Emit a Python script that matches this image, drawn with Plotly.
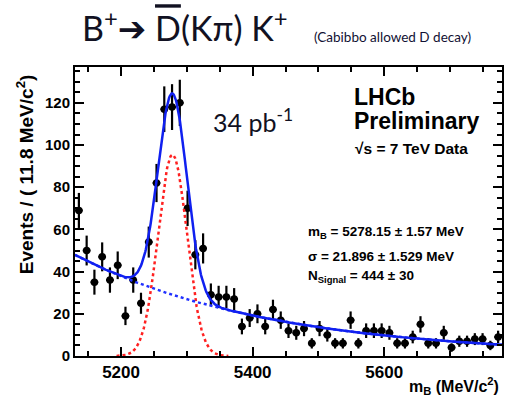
import numpy as np
import plotly.graph_objects as go

# Binning of the B candidate mass spectrum (MeV/c^2)
M_LO = 5130.0
BIN_W = 11.8
counts = [69, 50, 35, 47, 36, 43, 19, 36, 25, 54,
          82, 117, 118, 120, 70, 48, 51, 29, 28, 28,
          27, 14, 18, 20, 14, 22, 17, 12, 11, 13,
          6, 13, 10, 6, 6, 17, 6, 12, 12, 12,
          11, 6, 6, 9, 15, 6, 6, 11, 4, 7,
          7, 8, 8, 5, 9]

# Fit results
SIG_MEAN = 5278.15
SIG_WIDTH = 21.896
N_SIGNAL = 444
BKG_NORM = 47.9        # events per bin at the low edge
BKG_SLOPE = -0.00339   # per MeV/c^2

x_ticks = [5200, 5400, 5600]
y_ticks = [0, 20, 40, 60, 80, 100, 120]

n_bins = len(counts)
M_HI = M_LO + n_bins * BIN_W
centers = M_LO + BIN_W * (np.arange(n_bins) + 0.5)
errors = np.sqrt(np.array(counts, dtype=float))

m = np.linspace(M_LO, M_HI, 700)
signal = N_SIGNAL * BIN_W / (np.sqrt(2 * np.pi) * SIG_WIDTH) * np.exp(-0.5 * ((m - SIG_MEAN) / SIG_WIDTH) ** 2)
background = BKG_NORM * np.exp(BKG_SLOPE * (m - M_LO))
total = signal + background

W, H = 510, 401
ML, MR, MT, MB = 75, 6, 67, 45
PW, PH = W - ML - MR, H - MT - MB


def paper(px, py):
    """Convert window pixel position to paper coordinates."""
    return (px - ML) / PW, (H - MB - py) / PH


fig = go.Figure()

fig.add_trace(go.Scatter(
    x=centers, y=counts, mode="markers",
    marker=dict(color="black", size=7.5),
    error_y=dict(type="data", array=errors, color="black", thickness=2.2, width=0),
    error_x=dict(type="constant", value=BIN_W / 2, color="black", thickness=2, width=0),
    showlegend=False, hoverinfo="skip",
))
fig.add_trace(go.Scatter(
    x=m, y=np.where(signal > 0.05, signal, np.nan), mode="lines",
    line=dict(color="#ff2020", width=2.5, dash="dot"),
    showlegend=False, hoverinfo="skip",
))
fig.add_trace(go.Scatter(
    x=m, y=background, mode="lines",
    line=dict(color="#2030ff", width=2.5, dash="dot"),
    showlegend=False, hoverinfo="skip",
))
fig.add_trace(go.Scatter(
    x=m, y=total, mode="lines",
    line=dict(color="#1020f0", width=2.5),
    showlegend=False, hoverinfo="skip",
))

axis_font = dict(family="Liberation Sans, Arial", color="black", weight="bold")

fig.update_layout(
    width=W, height=H,
    margin=dict(l=ML, r=MR, t=MT, b=MB),
    paper_bgcolor="white", plot_bgcolor="white",
    xaxis=dict(
        range=[M_LO, M_HI], tickvals=x_ticks, ticktext=[str(v) for v in x_ticks],
        ticks="inside", ticklen=9, tickwidth=1.5, tickcolor="black",
        minor=dict(dtick=50, tick0=5200, ticks="inside", ticklen=5, tickwidth=1.5, tickcolor="black"),
        showline=True, linecolor="black", linewidth=2, mirror="allticks",
        showgrid=False, zeroline=False,
        tickfont=dict(size=17, **axis_font),
    ),
    yaxis=dict(
        range=[0, 137], tickvals=y_ticks, ticktext=[str(v) for v in y_ticks],
        ticks="inside", ticklen=9, tickwidth=1.5, tickcolor="black",
        minor=dict(dtick=5, ticks="inside", ticklen=5, tickwidth=1.5, tickcolor="black"),
        showline=True, linecolor="black", linewidth=2, mirror="allticks",
        showgrid=False, zeroline=False,
        tickfont=dict(size=15, **axis_font),
    ),
)

annotations = []


def label(text, px, py, size, family="Liberation Sans, Arial", bold=True,
          xanchor="left", yanchor="middle", angle=0, color="black"):
    ax, ay = paper(px, py)
    annotations.append(dict(
        text=text, x=ax, y=ay, xref="paper", yref="paper",
        xanchor=xanchor, yanchor=yanchor, showarrow=False, textangle=angle,
        font=dict(family=family, size=size, color=color, weight="bold" if bold else "normal"),
    ))


# Header
label('B<sup>+</sup><span style="font-family:DejaVu Sans">\u2794</span> '
      '<span style="text-decoration:overline">D</span>(K\u03c0) K<sup>+</sup>',
      80, 26, 34, family="Lato", bold=False, color="#111122")
label("(Cabibbo allowed D decay)", 313, 37, 13.5, family="Lato", bold=False, color="#111133")

# Luminosity
label("34 pb<sup>-1</sup>", 212, 120, 25, family="Lato", bold=False, color="#111122")

# Experiment tags
label("LHCb", 353, 97, 23)
label("Preliminary", 353, 121, 23)
label("\u221as = 7 TeV Data", 354, 148, 15.5)

# Fit results
label("m<sub>B</sub> = 5278.15 \u00b1 1.57 MeV", 307, 233, 13.5)
label("\u03c3 = 21.896 \u00b1 1.529 MeV", 307, 256, 13.5)
label("N<sub>Signal</sub> = 444 \u00b1 30", 307, 276, 13.5)

# Axis titles
label("Events / ( 11.8 MeV/c<sup>2</sup>)", 25, 174, 19, xanchor="center", angle=-90)
label("m<sub>B</sub> (MeV/c<sup>2</sup>)", 503, 386, 16, xanchor="right")

fig.update_layout(annotations=annotations)

fig.write_html("out.html")
